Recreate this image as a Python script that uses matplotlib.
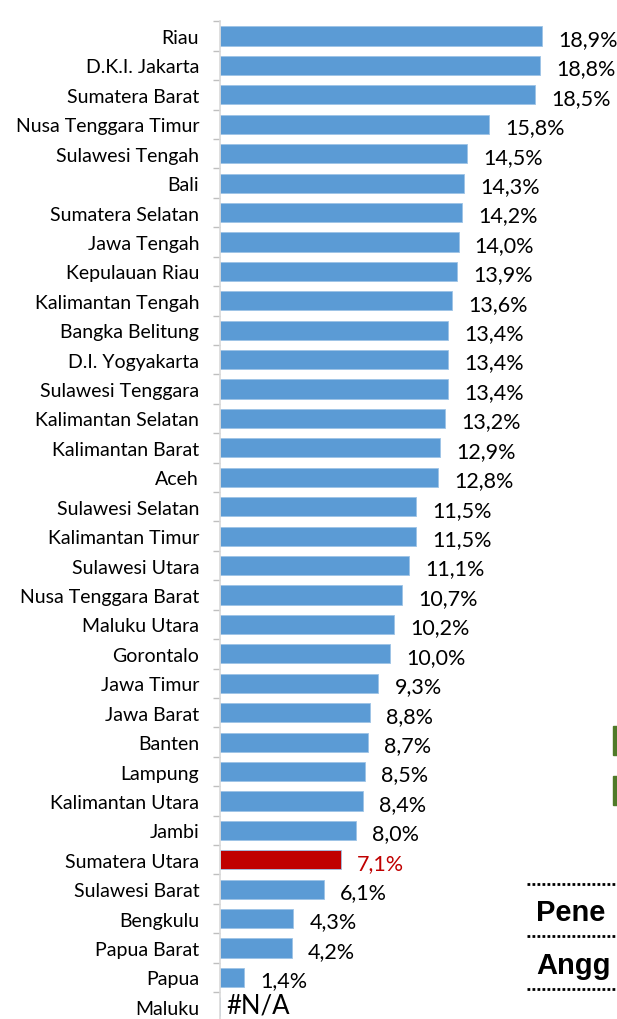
import numpy as np
import matplotlib

matplotlib.use("Agg")
import matplotlib.pyplot as plt

plt.rcParams["font.family"] = ["Lato", "DejaVu Sans"]

# data
provinces = [
    "Riau", "D.K.I. Jakarta", "Sumatera Barat", "Nusa Tenggara Timur",
    "Sulawesi Tengah", "Bali", "Sumatera Selatan", "Jawa Tengah",
    "Kepulauan Riau", "Kalimantan Tengah", "Bangka Belitung", "D.I. Yogyakarta",
    "Sulawesi Tenggara", "Kalimantan Selatan", "Kalimantan Barat", "Aceh",
    "Sulawesi Selatan", "Kalimantan Timur", "Sulawesi Utara", "Nusa Tenggara Barat",
    "Maluku Utara", "Gorontalo", "Jawa Timur", "Jawa Barat", "Banten",
    "Lampung", "Kalimantan Utara", "Jambi", "Sumatera Utara", "Sulawesi Barat",
    "Bengkulu", "Papua Barat", "Papua", "Maluku",
]
values = [
    18.9, 18.8, 18.5, 15.8, 14.5, 14.3, 14.2, 14.0, 13.9, 13.6, 13.4, 13.4,
    13.4, 13.2, 12.9, 12.8, 11.5, 11.5, 11.1, 10.7, 10.2, 10.0, 9.3, 8.8,
    8.7, 8.5, 8.4, 8.0, 7.1, 6.1, 4.3, 4.2, 1.4, np.nan,
]
highlight = "Sumatera Utara"

W, H = 617, 1020
fig = plt.figure(figsize=(W / 100, H / 100), dpi=100)
ax = fig.add_axes([220 / W, (H - 1022.6) / H, (W - 220) / W, 1000.3 / H])

y = np.arange(len(provinces))
colors = ["#C00000" if p == highlight else "#5B9BD5" for p in provinces]
bar_vals = np.nan_to_num(values)
ax.barh(y, bar_vals, height=0.65, color=colors, edgecolor="#9DC3E6", linewidth=0.6)

for yi, v, p in zip(y, values, provinces):
    if np.isnan(v):
        ax.text(0.35, yi - 0.05, "#N/A", va="center", ha="left", fontsize=18.5, color="black")
        continue
    c = "#C00000" if p == highlight else "black"
    lab = f"{v:.1f}%".replace(".", ",")
    ax.text(v + 0.95, yi + 0.1, lab, va="center", ha="left", fontsize=15.5, color=c)

ax.set_xlim(0, 23.3)
ax.set_ylim(len(provinces) - 0.5, -0.5)
ax.set_yticks(y)
ax.set_yticklabels(provinces, fontsize=14)
ax.set_yticks(np.arange(len(provinces) + 1) - 0.5, minor=True)
ax.tick_params(axis="y", which="major", length=0, pad=15)
ax.tick_params(axis="y", which="minor", length=5, color="#BFBFBF", width=1)
ax.set_xticks([])
for s in ["top", "right", "bottom"]:
    ax.spines[s].set_visible(False)
ax.spines["left"].set_color("#D9D9D9")
ax.spines["left"].set_linewidth(1.2)

# cut-off neighbour elements at right edge
for y0 in (727, 777):
    fig.patches.append(plt.Rectangle((613 / W, 1 - (y0 + 29) / H), 5 / W, 29 / H,
                                     transform=fig.transFigure, color="#4F7A28"))
for yl in (885, 937, 990):
    fig.add_artist(plt.Line2D([527 / W, 1], [1 - yl / H] * 2, transform=fig.transFigure,
                              color="black", linestyle=(0, (1, 0.8)), linewidth=2))
fig.text(536 / W, 1 - 913 / H, "Pene", fontsize=21, fontweight="bold", va="center",
         family=["Liberation Sans", "DejaVu Sans"])
fig.text(536 / W, 1 - 966 / H, "Angg", fontsize=21, fontweight="bold", va="center",
         family=["Liberation Sans", "DejaVu Sans"])

fig.savefig("out.png", dpi=100)
